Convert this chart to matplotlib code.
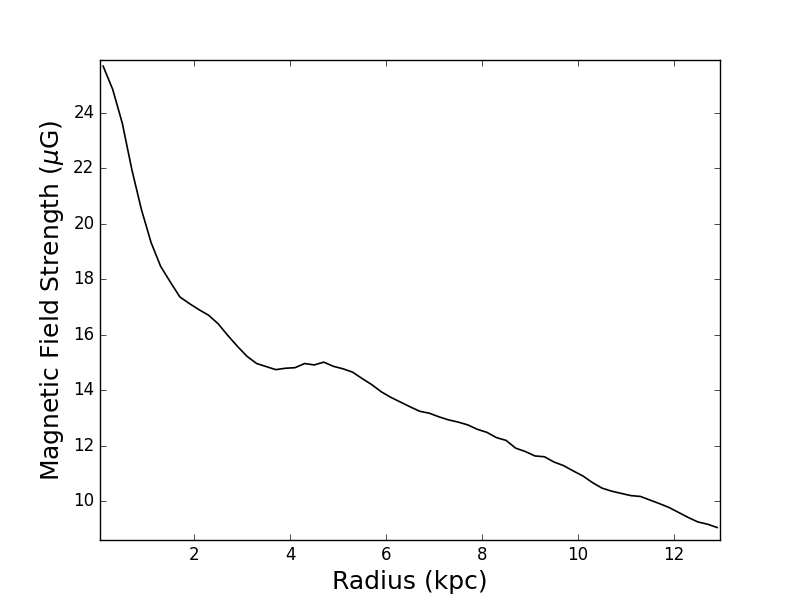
import numpy as np
import matplotlib
matplotlib.use("Agg")
import matplotlib.pyplot as plt

plt.style.use("classic")
plt.rcParams["mathtext.fontset"] = "dejavusans"
plt.rcParams["font.family"] = "DejaVu Sans"

# radius bins (kpc) and field strength
radius = np.arange(0.1, 12.95, 0.2)
bfield = [25.68, 24.84, 23.62, 21.94, 20.50, 19.32, 18.46, 17.90, 17.36, 17.12,
          16.90, 16.70, 16.39, 15.97, 15.58, 15.22, 14.96, 14.85, 14.74, 14.79,
          14.81, 14.96, 14.91, 15.01, 14.86, 14.77, 14.65, 14.42, 14.20, 13.94,
          13.74, 13.57, 13.40, 13.24, 13.17, 13.04, 12.93, 12.85, 12.75, 12.59,
          12.48, 12.29, 12.19, 11.91, 11.79, 11.63, 11.60, 11.41, 11.28, 11.09,
          10.91, 10.67, 10.47, 10.36, 10.28, 10.20, 10.17, 10.04, 9.91, 9.77,
          9.59, 9.41, 9.25, 9.17, 9.05]

fig = plt.figure(figsize=(8, 6), dpi=100)
ax = fig.add_subplot(111)
ax.plot(radius, bfield, color="k", lw=1.2)

ax.set_xlim(0.035, 12.96)
ax.set_ylim(8.6, 25.9)
ax.set_xticks([2, 4, 6, 8, 10, 12])
ax.set_yticks([10, 12, 14, 16, 18, 20, 22, 24])
ax.tick_params(labelsize=12)

ax.set_xlabel("Radius (kpc)", fontsize=18)
ax.set_ylabel(r"Magnetic Field Strength ($\mu$G)", fontsize=18)

fig.savefig("out.png", dpi=100, facecolor="white")
